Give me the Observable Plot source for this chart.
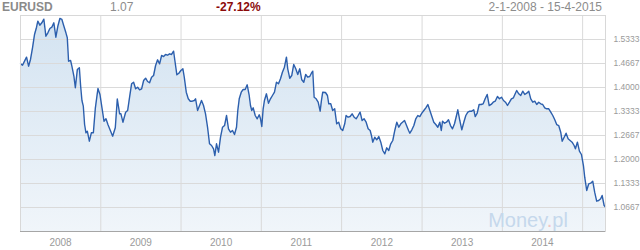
<!DOCTYPE html>
<html><head><meta charset="utf-8">
<script src="https://cdn.jsdelivr.net/npm/d3@7"></script>
<script src="https://cdn.jsdelivr.net/npm/@observablehq/plot@0.6"></script>
<style>
body{margin:0;background:#fff;font-family:"Liberation Sans",Arial,sans-serif;}
#hdr{position:relative;height:14px;width:640px;font-size:12px;color:#8c8c8c;}
#hdr span{position:absolute;top:0;line-height:14px;white-space:nowrap;}
#chart svg{display:block;}
</style></head><body>
<div id="hdr"></div>
<div id="chart"></div>
<script>
// Header texts
const symbol = "EURUSD";
const lastValue = "1.07";
const change = "-27.12%";
const period = "2-1-2008 - 15-4-2015";

// Axis labels / ticks
const xLabels = ["2008","2009","2010","2011","2012","2013","2014"];
const yTicks = [1.0667,1.1333,1.2000,1.2667,1.3333,1.4000,1.4667,1.5333];

// EURUSD series: [decimal year, rate]
const y2008 = [[2008.003,1.4658],[2008.028,1.4619],[2008.053,1.4731],[2008.078,1.4842],[2008.103,1.4592],[2008.127,1.4778],[2008.152,1.5103],[2008.177,1.5472],[2008.202,1.5675],[2008.218,1.5842],[2008.243,1.5731],[2008.268,1.5797],[2008.293,1.5897],[2008.318,1.5425],[2008.343,1.5519],[2008.368,1.5639],[2008.392,1.5675],[2008.417,1.5797],[2008.442,1.5397],[2008.467,1.5703],[2008.492,1.5917],[2008.517,1.5889],[2008.542,1.5703],[2008.567,1.5519],[2008.584,1.5381],[2008.600,1.4731],[2008.625,1.4750],[2008.641,1.4592],[2008.666,1.4314],[2008.684,1.3992],[2008.709,1.4500],[2008.734,1.4547],[2008.750,1.4036],[2008.766,1.3639],[2008.783,1.3481],[2008.799,1.2972],[2008.816,1.2742],[2008.833,1.2786],[2008.858,1.2508],[2008.883,1.2742],[2008.908,1.2742],[2008.933,1.3436],[2008.965,1.3972],[2008.990,1.3806]];
const y2009 = [[2009.015,1.3436],[2009.040,1.3064],[2009.065,1.3131],[2009.089,1.2972],[2009.123,1.2786],[2009.148,1.2647],[2009.181,1.2881],[2009.206,1.3681],[2009.235,1.3269],[2009.251,1.3269],[2009.276,1.3036],[2009.310,1.3314],[2009.335,1.3361],[2009.359,1.3731],[2009.384,1.4103],[2009.409,1.4147],[2009.434,1.3964],[2009.459,1.4008],[2009.484,1.3936],[2009.509,1.3964],[2009.534,1.4194],[2009.559,1.4258],[2009.583,1.4167],[2009.608,1.4131],[2009.633,1.4286],[2009.658,1.4333],[2009.683,1.4611],[2009.708,1.4769],[2009.733,1.4658],[2009.758,1.4889],[2009.783,1.4861],[2009.807,1.4917],[2009.832,1.4897],[2009.857,1.4936],[2009.882,1.4917],[2009.907,1.5008],[2009.923,1.4750],[2009.948,1.4353],[2009.973,1.4397],[2009.998,1.4472]];
const y2010 = [[2010.023,1.4519],[2010.040,1.4286],[2010.065,1.3869],[2010.090,1.3686],[2010.115,1.3619],[2010.140,1.3619],[2010.165,1.3639],[2010.181,1.3686],[2010.206,1.3361],[2010.231,1.3500],[2010.255,1.3639],[2010.280,1.3500],[2010.305,1.3269],[2010.330,1.2897],[2010.355,1.2436],[2010.380,1.2389],[2010.405,1.2297],[2010.421,1.2111],[2010.442,1.2436],[2010.467,1.2203],[2010.492,1.2619],[2010.517,1.2897],[2010.542,1.2944],[2010.567,1.3222],[2010.591,1.2853],[2010.616,1.2758],[2010.641,1.2806],[2010.666,1.2694],[2010.691,1.2897],[2010.707,1.3361],[2010.725,1.3686],[2010.750,1.3869],[2010.774,1.3944],[2010.799,1.3944],[2010.824,1.4075],[2010.849,1.3778],[2010.865,1.3500],[2010.881,1.3361],[2010.899,1.3436],[2010.924,1.3222],[2010.949,1.3131],[2010.974,1.3242],[2010.990,1.3131]];
const y2011 = [[2011.006,1.2917],[2011.023,1.3408],[2011.039,1.3639],[2011.064,1.3825],[2011.089,1.3564],[2011.114,1.3686],[2011.139,1.3778],[2011.164,1.3869],[2011.189,1.4147],[2011.214,1.4103],[2011.239,1.4242],[2011.263,1.4425],[2011.288,1.4564],[2011.313,1.4842],[2011.329,1.4519],[2011.354,1.4258],[2011.379,1.4333],[2011.404,1.4639],[2011.429,1.4519],[2011.454,1.4361],[2011.479,1.4519],[2011.504,1.4214],[2011.529,1.4147],[2011.553,1.4361],[2011.578,1.4286],[2011.603,1.4306],[2011.624,1.4397],[2011.641,1.4453],[2011.658,1.3731],[2011.683,1.3686],[2011.708,1.3592],[2011.733,1.3342],[2011.749,1.3639],[2011.765,1.3869],[2011.799,1.3861],[2011.824,1.3778],[2011.840,1.3547],[2011.865,1.3547],[2011.889,1.3361],[2011.914,1.3408],[2011.939,1.2992],[2011.964,1.3036],[2011.989,1.2853]];
const y2012 = [[2012.014,1.2806],[2012.039,1.2992],[2012.056,1.3222],[2012.081,1.3175],[2012.106,1.3194],[2012.131,1.3269],[2012.156,1.3175],[2012.181,1.3131],[2012.206,1.3222],[2012.230,1.3314],[2012.255,1.3083],[2012.280,1.3131],[2012.305,1.3036],[2012.330,1.2853],[2012.355,1.2806],[2012.371,1.2667],[2012.387,1.2481],[2012.412,1.2619],[2012.437,1.2547],[2012.462,1.2639],[2012.487,1.2481],[2012.512,1.2250],[2012.537,1.2158],[2012.561,1.2325],[2012.586,1.2250],[2012.611,1.2436],[2012.636,1.2528],[2012.661,1.2806],[2012.686,1.3036],[2012.711,1.2897],[2012.736,1.2992],[2012.757,1.3036],[2012.782,1.3083],[2012.807,1.2944],[2012.832,1.2806],[2012.848,1.2731],[2012.873,1.2825],[2012.898,1.2944],[2012.922,1.3131],[2012.947,1.3222],[2012.972,1.3194],[2012.997,1.3286]];
const y2013 = [[2013.022,1.3361],[2013.047,1.3436],[2013.072,1.3528],[2013.097,1.3361],[2013.122,1.3194],[2013.146,1.3036],[2013.171,1.2972],[2013.196,1.2897],[2013.221,1.3036],[2013.239,1.2806],[2013.255,1.3064],[2013.280,1.3008],[2013.304,1.3036],[2013.329,1.3103],[2013.354,1.2944],[2013.379,1.2853],[2013.404,1.2992],[2013.429,1.3222],[2013.445,1.3381],[2013.470,1.3083],[2013.495,1.2825],[2013.520,1.3036],[2013.545,1.3222],[2013.570,1.3314],[2013.594,1.3342],[2013.619,1.3342],[2013.644,1.3381],[2013.662,1.3194],[2013.687,1.3286],[2013.711,1.3528],[2013.736,1.3528],[2013.761,1.3547],[2013.786,1.3686],[2013.811,1.3806],[2013.836,1.3500],[2013.861,1.3528],[2013.886,1.3592],[2013.911,1.3619],[2013.939,1.3750],[2013.964,1.3686],[2013.989,1.3731]];
const y2014 = [[2014.014,1.3639],[2014.039,1.3592],[2014.064,1.3500],[2014.089,1.3592],[2014.113,1.3686],[2014.138,1.3714],[2014.163,1.3842],[2014.179,1.3917],[2014.204,1.3825],[2014.229,1.3778],[2014.254,1.3897],[2014.279,1.3806],[2014.304,1.3842],[2014.329,1.3897],[2014.354,1.3686],[2014.379,1.3592],[2014.404,1.3619],[2014.428,1.3528],[2014.453,1.3592],[2014.478,1.3547],[2014.503,1.3528],[2014.528,1.3436],[2014.553,1.3408],[2014.578,1.3408],[2014.603,1.3314],[2014.628,1.3222],[2014.653,1.3103],[2014.677,1.2972],[2014.702,1.2944],[2014.727,1.2758],[2014.745,1.2508],[2014.770,1.2619],[2014.794,1.2731],[2014.819,1.2575],[2014.844,1.2528],[2014.869,1.2481],[2014.894,1.2389],[2014.910,1.2297],[2014.935,1.2481],[2014.960,1.2231],[2014.985,1.2139]];
const y2015 = [[2015.010,1.1833],[2015.026,1.1508],[2015.051,1.1139],[2015.076,1.1325],[2015.101,1.1342],[2015.126,1.1397],[2015.150,1.1092],[2015.175,1.0842],[2015.200,1.0861],[2015.225,1.0908],[2015.243,1.1000],[2015.268,1.0722],[2015.284,1.0680]];

(function () {
  // decimal year -> Date (unit conversion only)
  function toDate(t) {
    const y = Math.floor(t);
    const a = Date.UTC(y, 0, 1), b = Date.UTC(y + 1, 0, 1);
    return new Date(a + (t - y) * (b - a));
  }
  const data = [...y2008, ...y2009, ...y2010, ...y2011, ...y2012, ...y2013, ...y2014, ...y2015]
    .map(([t, v]) => ({date: toDate(t), value: v}));

  const yearBounds = xLabels.map(s => new Date(Date.UTC(+s + 1, 0, 1)));
  const midYears = xLabels.map(s => new Date(Date.UTC(+s, 6, 2)));

  // header
  const hdr = document.getElementById("hdr");
  hdr.innerHTML =
    `<span style="left:2px;font-weight:bold;color:#8a8a8a">${symbol}</span>` +
    `<span style="left:110px">${lastValue}</span>` +
    `<span style="left:216px;font-weight:bold;color:#8b0a0a">${change}</span>` +
    `<span style="right:38px">${period}</span>`;

  const yMin = 1.0, yMax = 1.6;
  const chart = Plot.plot({
    width: 640, height: 236,
    marginTop: 1, marginBottom: 19, marginLeft: 20, marginRight: 35,
    x: {type: "utc", domain: [new Date(Date.UTC(2008, 0, 2)), new Date(Date.UTC(2015, 3, 15))], label: null},
    y: {domain: [yMin, yMax], label: null},
    style: {fontFamily: "'Liberation Sans', Arial, sans-serif", color: "#9a9a9a", background: "#fff", overflow: "visible"},
    marks: [
      Plot.areaY(data, {x: "date", y1: yMin, y2: "value", fill: "url(#eurGrad)"}),
      Plot.gridY(yTicks, {stroke: "#dadada", strokeOpacity: 1}),
      Plot.gridX(yearBounds, {stroke: "#dadada", strokeOpacity: 1}),
      Plot.line(data, {x: "date", y: "value", stroke: "#2c5fad", strokeWidth: 1.4}),
      Plot.frame({stroke: "#d8d8d8"}),
      Plot.ruleY([yMin], {stroke: "#a6a6a6"}),
      Plot.axisY(yTicks, {anchor: "right", label: null, tickSize: 0, tickPadding: 8, tickFormat: d3.format(".4f"), fontSize: 8.5}),
      Plot.axisX(midYears, {anchor: "bottom", label: null, tickSize: 0, tickPadding: 7, tickFormat: (d, i) => xLabels[i], fontSize: 10})
    ]
  });
  document.getElementById("chart").appendChild(chart);

  // gradient + watermark decoration
  const svg = d3.select(chart);
  const xs = chart.scale("x"), ys = chart.scale("y");
  const fTop = ys.range[1], fBottom = ys.range[0], fRight = xs.range[1], fLeft = xs.range[0];
  const defs = svg.insert("defs", ":first-child");
  const g = defs.append("linearGradient").attr("id", "eurGrad")
    .attr("gradientUnits", "userSpaceOnUse").attr("x1", 0).attr("x2", 0).attr("y1", fTop).attr("y2", fBottom);
  g.append("stop").attr("offset", "0%").attr("stop-color", "#d3e3f1");
  g.append("stop").attr("offset", "100%").attr("stop-color", "#f0f5fa");
  defs.append("clipPath").attr("id", "frameClip").append("rect")
    .attr("x", fLeft).attr("y", fTop).attr("width", fRight - fLeft).attr("height", fBottom - fTop);
  const wm = svg.append("text").attr("clip-path", "url(#frameClip)")
    .attr("x", fRight - 77).attr("y", fBottom - 4)
    .attr("font-family", "'Liberation Sans', Arial, sans-serif").attr("font-size", 20)
    .attr("fill", "#c5d8ec");
  wm.append("tspan").text("Money");
  wm.append("tspan").attr("fill", "#f2c4c4").text(".");
  wm.append("tspan").text("pl");
})();
</script>
</body></html>
